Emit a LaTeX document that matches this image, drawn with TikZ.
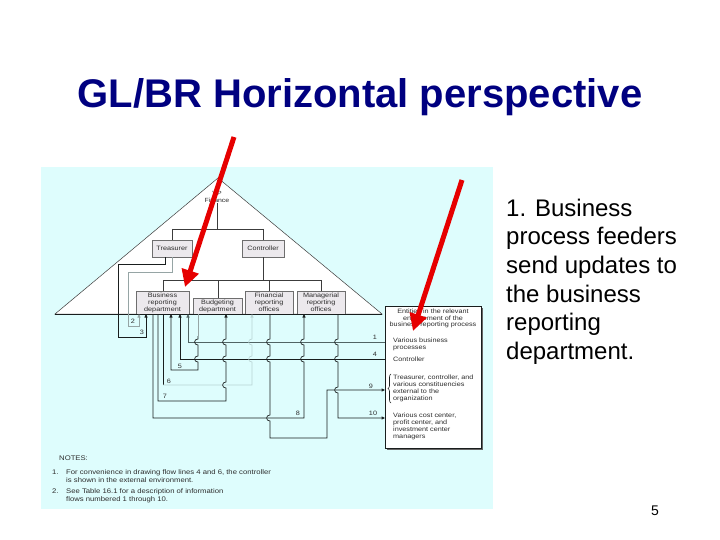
\documentclass[tikz,border=0pt]{standalone}
\usepackage{fontspec}
\setmainfont{Liberation Sans}
\newfontfamily\df[FakeStretch=1.15]{Liberation Sans}
\usetikzlibrary{arrows.meta,decorations.pathreplacing,shadows}
\definecolor{bgcyan}{RGB}{222,253,253}
\definecolor{navyc}{RGB}{0,0,128}
\definecolor{redc}{RGB}{230,0,0}
\definecolor{boxfill}{RGB}{236,233,237}
\definecolor{boxedge}{RGB}{110,110,110}
\definecolor{treec}{RGB}{60,60,60}
\definecolor{txtc}{RGB}{45,45,45}
\definecolor{darkc}{RGB}{25,30,30}
\definecolor{midc}{RGB}{80,100,100}
\definecolor{lightc}{RGB}{150,165,165}
\definecolor{faintc}{RGB}{185,212,212}
\begin{document}
\begin{tikzpicture}[x=1pt,y=-1pt,
  tree/.style={draw=treec, line width=0.6pt},
  dbox/.style={draw=boxedge, fill=boxfill, line width=0.5pt, inner sep=0pt, align=center,
    font=\df\fontsize{6.3}{7}\selectfont, text=txtc},
  lbl/.style={font=\df\fontsize{6.3}{7}\selectfont, text=txtc, inner sep=0pt},
  ltxt/.style={font=\df\fontsize{6.3}{7}\selectfont, text=txtc, inner sep=0pt, align=left, anchor=west},
  ntxt/.style={font=\df\fontsize{6.7}{8}\selectfont, text=txtc, inner sep=0pt, anchor=base west},
  flowd/.style={draw=darkc, line width=0.7pt},
  flowm/.style={draw=midc, line width=0.8pt},
  flowl/.style={draw=lightc, line width=0.7pt},
  flowf/.style={draw=faintc, line width=0.6pt},
  tip/.style={-{Triangle[length=3.5pt,width=3pt]}},
  redarr/.style={draw=redc, line width=5pt, -{Triangle[length=17pt,width=17pt]}},
  hop/.style args={#1/#2}{insert path={-- (#1,#2-3) .. controls (#1-4.5,#2-3) and (#1-4.5,#2+3) .. (#1,#2+3)}},
  hopu/.style args={#1/#2}{insert path={-- (#1,#2+3) .. controls (#1-4.5,#2+3) and (#1-4.5,#2-3) .. (#1,#2-3)}},
  side/.style={font=\fontsize{24}{28.7}\selectfont, anchor=base west, inner sep=0pt}
]
\useasboundingbox (0,0) rectangle (720,540);
\fill[white] (0,0) rectangle (720,540);

% title
\node[font=\bfseries\fontsize{40}{48}\selectfont, text=navyc, anchor=base, inner sep=0pt] (title) at (360,108) {GL/BR Horizontal perspective};

% right-hand text
\node[side] (s1) at (506,216) {1. Business};
\node[side] (s2) at (506,244.7) {process feeders};
\node[side] (s3) at (506,273.4) {send updates to};
\node[side] (s4) at (506,302.1) {the business};
\node[side] (s5) at (506,330.8) {reporting};
\node[side] (s6) at (506,359.5) {department.};
\node[font=\fontsize{14}{16}\selectfont, anchor=base, inner sep=0pt] (pg) at (655,515) {5};

% diagram background
\fill[bgcyan] (41,167) rectangle (493,509);

% triangle
\draw[draw=treec, fill=white, line width=0.5pt] (218,178) -- (55,314) -- (382,314) -- cycle;

% top label and tree
\node[lbl, align=center, font=\df\fontsize{6}{7.5}\selectfont] (vp) at (217,197) {VP\\Finance};
\node[dbox, minimum width=40pt, minimum height=17pt] (treas) at (172,248.5) {Treasurer};
\node[dbox, minimum width=42pt, minimum height=17pt] (ctrl) at (263,248.5) {Controller};
\node[dbox, minimum width=53pt, minimum height=23pt] (brd) at (162.5,302.5) {Business\\reporting\\department};
\node[dbox, minimum width=49pt, minimum height=16pt] (budg) at (217.5,306) {Budgeting\\department};
\node[dbox, minimum width=48pt, minimum height=23pt] (fro) at (269,302.5) {Financial\\reporting\\offices};
\node[dbox, minimum width=48pt, minimum height=23pt] (mro) at (321,302.5) {Managerial\\reporting\\offices};

\draw[tree] (vp.south) -- (217,229);
\draw[tree] (172,229) -- (263,229);
\draw[tree] (172,229) -- (treas.north);
\draw[tree] (263,229) -- (ctrl.north);
\draw[tree] (ctrl.south) -- (263,280);
\draw[tree] (163,280) -- (321,280);
\draw[tree] (163,280) -- (163,291);
\draw[tree] (218,280) -- (218,298);
\draw[tree] (269,280) -- (269,291);
\draw[tree] (321,280) -- (321,291);

% base line
\draw[draw=darkc, line width=1pt] (55,314) -- (382,314);

% environment box
\node[draw=darkc, fill=white, line width=0.5pt, minimum width=96pt, minimum height=142pt, inner sep=0pt,
  drop shadow={shadow xshift=1.8pt, shadow yshift=-1.8pt, fill=gray!80!black, opacity=1}] (ent) at (433,377) {};
\node[lbl, align=center, font=\df\fontsize{6.3}{6.6}\selectfont] (enth) at (433,318.5) {Entities in the relevant\\environment of the\\business reporting process};
\node[ltxt] (e1) at (393,344.5) {Various business\\processes};
\node[ltxt] (e2) at (393,359) {Controller};
\node[ltxt] (e3) at (393,388.5) {Treasurer, controller, and\\various constituencies\\external to the\\organization};
\node[ltxt] (e4) at (393,426.5) {Various cost center,\\profit center, and\\investment center\\managers};
\draw[draw=darkc, line width=0.6pt, decorate, decoration={brace, amplitude=3pt}] (391,403) -- (391,374);

% flows
\draw[flowm, tip] (385,342) -- (188,342) -- (188,314);
\draw[flowd, tip] (385,359) -- (180,359) -- (180,314);
\draw[flowl, tip] (172,257) -- (172,272) -- (128,272) -- (128,326) -- (139,326) -- (139,314);
\draw[flowd, tip] (165,257) -- (165,264) -- (118,264) -- (118,337) -- (146,337) -- (146,314);
\draw[flowl] (198,314) -- (198,336);
\draw[flowd, tip] (198,336) [hop=198/342] [hop=198/359] -- (198,370) -- (171,370) -- (171,314);
\draw[flowd] (163,314) -- (163,385);
\draw[flowf, tip] (163,385) -- (252,385) [hopu=252/359] [hopu=252/342] -- (252,314);
\draw[flowd, tip] (158,314) -- (158,401) -- (226,401) [hopu=226/385] [hopu=226/359] [hopu=226/342] -- (226,314);
\draw[flowd, tip] (153,314) -- (153,418) -- (304,418) [hopu=304/359] [hopu=304/342] -- (304,314);
\draw[flowd, tip] (270,314) [hop=270/342] [hop=270/359] [hop=270/418] -- (270,438) -- (327,438) -- (327,390) -- (385,390);
\draw[flowd, tip] (338,314) [hop=338/342] [hop=338/359] [hop=338/390] -- (338,418) -- (385,418);

% flow numbers
\node[lbl] (n1) at (375,337) {1};
\node[lbl] (n4) at (375,354) {4};
\node[lbl] (n9) at (371,386) {9};
\node[lbl] (n10) at (373,413) {10};
\node[lbl] (n8) at (298,413) {8};
\node[lbl] (n7) at (165,396) {7};
\node[lbl] (n6) at (169,381) {6};
\node[lbl] (n5) at (180,366) {5};
\node[lbl] (n3) at (142,332) {3};
\node[lbl] (n2) at (133,321) {2};

% notes
\node[ntxt] (nt0) at (59,460) {NOTES:};
\node[ntxt] (nt1a) at (52,474) {1.};
\node[ntxt] (nt1b) at (66,474) {For convenience in drawing flow lines 4 and 6, the controller};
\node[ntxt] (nt1c) at (66,482) {is shown in the external environment.};
\node[ntxt] (nt2a) at (52,493) {2.};
\node[ntxt] (nt2b) at (66,493) {See Table 16.1 for a description of information};
\node[ntxt] (nt2c) at (66,501) {flows numbered 1 through 10.};

% red arrows
\coordinate (r1s) at (234,137);
\coordinate (r1e) at (185,287);
\coordinate (r2s) at (462,180);
\coordinate (r2e) at (413,331);
\draw[redarr] (r1s) -- (r1e);
\draw[redarr] (r2s) -- (r2e);
\end{tikzpicture}
\end{document}
